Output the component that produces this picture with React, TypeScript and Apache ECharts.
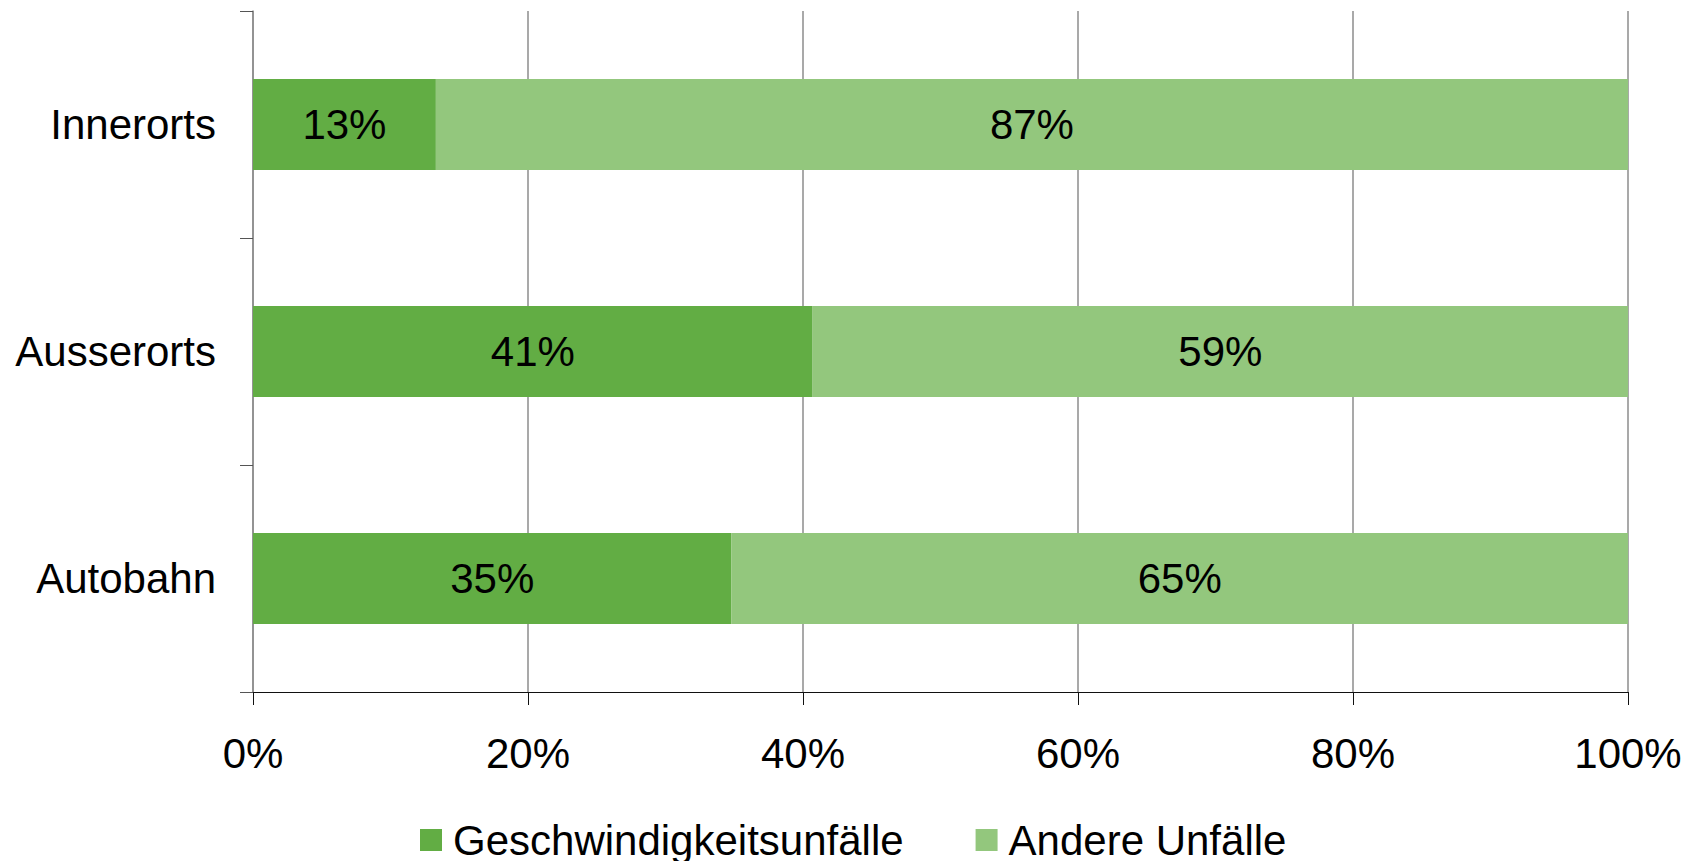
import React, { useEffect, useRef } from "react";
import * as echarts from "echarts";

const categories = ["Innerorts", "Ausserorts", "Autobahn"];
const seriesNames = ["Geschwindigkeitsunfälle", "Andere Unfälle"];
const speedValues = [13.3, 40.7, 34.8];
const otherValues = [86.7, 59.3, 65.2];
const xTicks = [0, 20, 40, 60, 80, 100];

const FONT = "'Liberation Sans', Arial, sans-serif";

export default function App() {
  const ref = useRef<HTMLDivElement>(null);
  useEffect(() => {
    if (!ref.current) return;
    const chart = echarts.init(ref.current, undefined, { renderer: "svg" });
    const labelCfg = {
      show: true,
      position: "inside",
      color: "#000",
      fontSize: 42,
      fontFamily: FONT,
      formatter: (p: any) => Math.round(p.value) + "%",
    };
    chart.setOption({
      animation: false,
      textStyle: { fontFamily: FONT },
      grid: { left: 253, right: 68, top: 11, bottom: 169, containLabel: false },
      legend: {
        left: 415,
        top: 814,
        itemWidth: 22,
        itemHeight: 22,
        itemGap: 72,
        icon: "rect",
        textStyle: { fontSize: 42, color: "#000", fontFamily: FONT, padding: [0, 0, 0, 6] },
        data: seriesNames,
      },
      xAxis: {
        type: "value",
        min: xTicks[0],
        max: xTicks[xTicks.length - 1],
        interval: 20,
        axisLine: { show: true, lineStyle: { color: "#111", width: 1 } },
        axisTick: { show: true, length: 13, lineStyle: { color: "#111" } },
        axisLabel: {
          formatter: (v: number) => v + "%",
          fontSize: 42,
          color: "#000",
          fontFamily: FONT,
          margin: 40,
        },
        splitLine: { show: true, lineStyle: { color: "#8c8c8c", width: 1.5 } },
      },
      yAxis: {
        type: "category",
        data: categories,
        inverse: true,
        axisLine: { show: true, lineStyle: { color: "#8c8c8c", width: 1.5 } },
        axisTick: { show: true, length: 13, lineStyle: { color: "#555" } },
        axisLabel: { fontSize: 42, color: "#000", fontFamily: FONT, margin: 37 },
      },
      series: [
        {
          name: seriesNames[0],
          type: "bar",
          stack: "total",
          barWidth: "40%",
          data: speedValues,
          itemStyle: { color: "#62AD44" },
          label: labelCfg,
        },
        {
          name: seriesNames[1],
          type: "bar",
          stack: "total",
          barWidth: "40%",
          data: otherValues,
          itemStyle: { color: "#93C77D" },
          label: labelCfg,
        },
      ],
    });
    return () => chart.dispose();
  }, []);
  return (
    <div
      ref={ref}
      style={{ position: "fixed", left: 0, top: 0, width: 1696, height: 861, background: "#fff" }}
    />
  );
}
